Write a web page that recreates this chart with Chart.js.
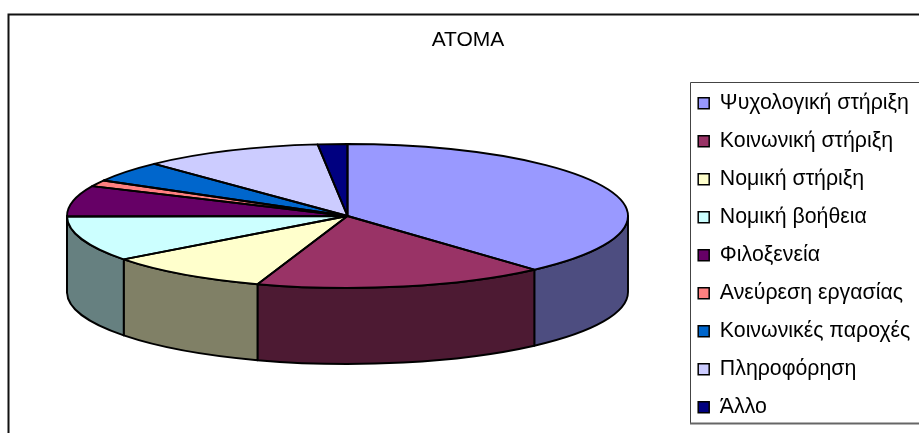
<!DOCTYPE html>
<html><head><meta charset="utf-8">
<style>html,body{margin:0;padding:0;background:#fff}canvas{display:block}</style>
<script src="https://cdn.jsdelivr.net/npm/chart.js@4"></script>
</head><body><canvas id="c" width="919" height="433"></canvas>
<script>
const categories = ["Ψυχολογική στήριξη","Κοινωνική στήριξη","Νομική στήριξη","Νομική βοήθεια","Φιλοξενεία","Ανεύρεση εργασίας","Κοινωνικές παροχές","Πληροφόρηση","Άλλο"];
const values = [38.4,16.8,9.5,10.2,6.9,1.4,4.7,10.4,1.7];
const colors = ["#9999FF","#993366","#FFFFCC","#CCFFFF","#660066","#FF8080","#0066CC","#CCCCFF","#000080"];
const chartTitle = "ATOMA";
const PIE = {cx:347.5, cy:216, rx:280.5, ry:72, depth:76};
const dark = h => '#'+[1,3,5].map(i=>Math.round(parseInt(h.substr(i,2),16)/2).toString(16).padStart(2,'0')).join('');

function ellipseTop(ctx,a,b,dy,ccw){ctx.ellipse(PIE.cx,PIE.cy+dy,PIE.rx,PIE.ry,0,a,b,ccw);}
const pie3d = {
  id:'pie3d',
  afterLayout(chart){
    const lg=chart.legend;
    lg.left=681.5; lg.right=919; lg.top=76; lg.bottom=480;
  },
  beforeDraw(chart){
    const c=chart.ctx; c.save();
    c.fillStyle='#fff'; c.fillRect(0,0,919,433);
    c.strokeStyle='#111'; c.lineWidth=2;
    c.beginPath(); c.moveTo(8.5,433); c.lineTo(8.5,14.5); c.lineTo(919,14.5); c.stroke();
    c.strokeStyle='#444'; c.lineWidth=1;
    c.beginPath(); c.moveTo(919,82.5); c.lineTo(690.5,82.5); c.lineTo(690.5,423); c.stroke();
    c.strokeStyle='#666'; c.lineWidth=2;
    c.beginPath(); c.moveTo(690,423.5); c.lineTo(919,423.5); c.stroke();
    c.restore();
  },
  beforeDatasetDraw(chart){
    const c=chart.ctx, arcs=chart.getDatasetMeta(0).data;
    c.save(); c.lineWidth=1.9; c.lineJoin='round'; c.strokeStyle='#000';
    arcs.forEach((arc,i)=>{
      const a=Math.max(arc.startAngle,0), b=Math.min(arc.endAngle,Math.PI);
      if(b<=a) return;
      c.beginPath(); ellipseTop(c,a,b,0,false); ellipseTop(c,b,a,PIE.depth,true); c.closePath();
      c.fillStyle=dark(colors[i]); c.fill(); c.stroke();
    });
    c.restore();
    const o=arcs[0];
    c.save();
    c.translate(PIE.cx,PIE.cy); c.scale(PIE.rx/o.outerRadius,PIE.ry/o.outerRadius); c.translate(-o.x,-o.y);
  },
  afterDatasetDraw(chart){
    const c=chart.ctx, arcs=chart.getDatasetMeta(0).data;
    c.restore();
    c.save(); c.lineWidth=1.9; c.lineJoin='round'; c.strokeStyle='#000';
    arcs.forEach(arc=>{
      c.beginPath(); c.moveTo(PIE.cx,PIE.cy); ellipseTop(c,arc.startAngle,arc.endAngle,0,false); c.closePath(); c.stroke();
    });
    c.restore();
  }
};
new Chart(document.getElementById('c'),{
  type:'pie',
  data:{labels:categories,datasets:[{data:values,backgroundColor:colors,borderWidth:0}]},
  plugins:[pie3d],
  options:{
    responsive:false,animation:false,
    layout:{padding:{left:17,right:0,top:28,bottom:6}},
    plugins:{
      tooltip:{enabled:false},
      title:{display:true,text:chartTitle,color:'#000',font:{family:'Liberation Sans',size:21,weight:'normal'},padding:0},
      legend:{position:'right',align:'start',
        labels:{color:'#000',font:{family:'Liberation Sans',size:21.3},boxWidth:11,boxHeight:11,padding:16.7,
          generateLabels(ch){return Chart.overrides.pie.plugins.legend.labels.generateLabels(ch).map(l=>({...l,strokeStyle:'#000',lineWidth:1.5}));}}}
    }
  }
});
</script></body></html>
